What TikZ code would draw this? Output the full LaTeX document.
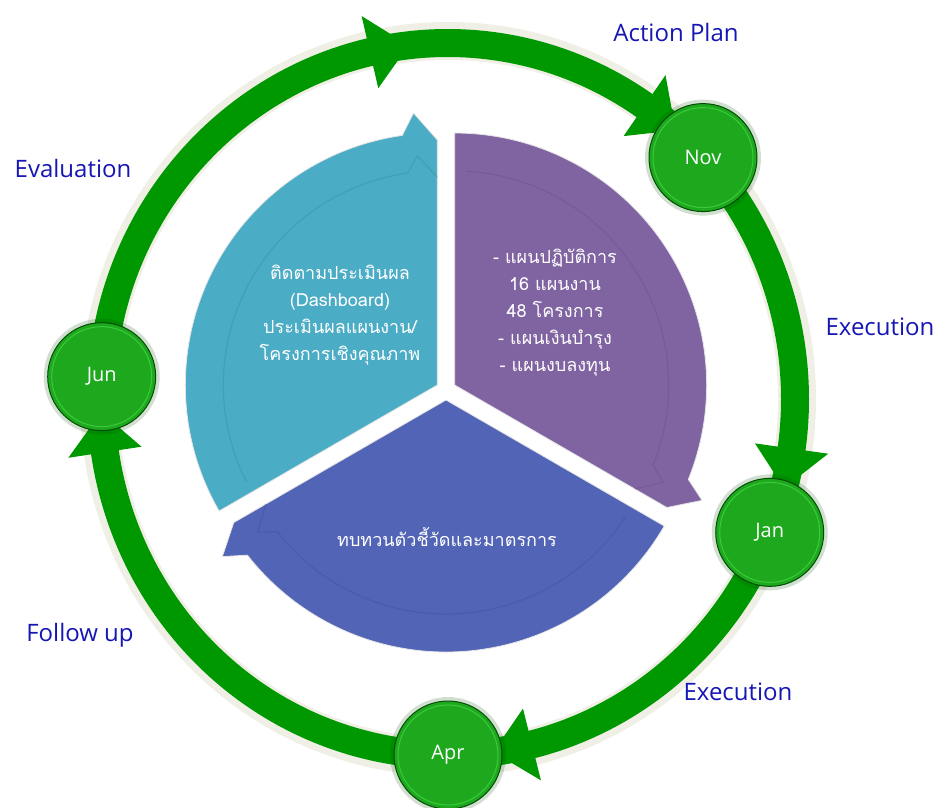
\documentclass[tikz,border=0pt]{standalone}
\usepackage{fontspec}
\setmainfont{Open Sans}
\newfontfamily\thaifont[Script=Thai]{Loma}
\usetikzlibrary{arrows, positioning, calc}

\definecolor{ringgreen}{RGB}{0,152,0}
\definecolor{monthgreen}{RGB}{30,168,30}
\definecolor{labelblue}{RGB}{22,22,180}
\definecolor{partcyan}{RGB}{75,172,198}
\definecolor{partpurple}{RGB}{128,100,162}
\definecolor{partblue}{RGB}{82,100,182}

% one part of the inner cycle: start angle, end angle, colour, shift direction
\newcommand{\cyclepart}[4]{%
  \begin{scope}[shift={(#4:10)}]
    \fill[#3, draw=white!90!black, line width=0.8pt] (0,0) -- (#1:252)
      arc[start angle=#1, end angle=#2+8, radius=252pt]
      -- (#2+5:273) -- (#2:245) -- cycle;
    \draw[#3!80!black, line width=1.2pt, opacity=0.4] (#1-3:214)
      arc[start angle=#1-3, end angle=#2+8, radius=214pt]
      -- (#2+5:230) -- (#2:208);
  \end{scope}}

\begin{document}
\begin{tikzpicture}[x=1pt, y=1pt,
  ring/.style={line width=28pt, ringgreen},
  ringglow/.style={line width=38pt, olive!45!gray, opacity=0.14},
  month/.style={circle, minimum size=108pt, inner sep=0pt, fill=monthgreen,
    draw=green!30!black, line width=1pt, text=white,
    font=\fontsize{20}{24}\selectfont},
  monthglow/.style={fill=green!30!black, opacity=0.18},
  phase/.style={text=labelblue, font=\fontsize{24}{28}\selectfont},
  parttext/.style={text=white, align=center,
    font=\thaifont\fontsize{18}{27}\selectfont}]
\useasboundingbox (-446,-417) rectangle (495,390);
% the centre of the outer ring
\coordinate (ringc) at (2,-9);
% the positions of the months on the ring
\foreach \name/\ang in {nov/42.7, jan/-22, apr/-90, jun/176.4}
  \coordinate (p-\name) at ($(ringc)+(\ang:347 and 356)$);
% we draw the soft shadow of the ring
\draw[ringglow] (ringc) ellipse[x radius=349pt, y radius=358pt];
% we draw the ring from month to month
\foreach \from/\to/\a/\b in {p-jun/p-nov/176.4/42.7, p-nov/p-jan/42.7/-22,
  p-jan/p-apr/-22/-90, p-apr/p-jun/-90/-183.6}
  \draw[ring] (\from) arc[start angle=\a, end angle=\b,
    x radius=347pt, y radius=356pt];
% we draw the arrow heads on the ring
\foreach \a in {103, 55.5, -8, -76, -171.4}
  \fill[ringgreen] ($(ringc)+(\a:384 and 393)$) -- ($(ringc)+(\a-6.5:347 and 356)$)
    -- ($(ringc)+(\a:310 and 319)$) -- cycle;
% we draw the three parts of the inner cycle
\cyclepart{210}{90}{partcyan}{150}
\cyclepart{90}{-30}{partpurple}{30}
\cyclepart{-30}{-150}{partblue}{270}
% the texts of the inner cycle
\node[parttext] (follow) at (-106,75) {ติดตามประเมินผล\\(Dashboard)\\ประเมินผลแผนงาน/\\โครงการเชิงคุณภาพ};
\node[parttext] (plans) at (109,77) {- แผนปฏิบัติการ\\16 แผนงาน\\48 โครงการ\\- แผนเงินบำรุง\\- แผนงบลงทุน};
\node[parttext] (review) at (1,-147) {ทบทวนตัวชี้วัดและมาตรการ};
% we draw the month circles
\foreach \name/\txt in {nov/Nov, jan/Jan, apr/Apr, jun/Jun}
{
  \fill[monthglow] (p-\name) circle[radius=58pt];
  \node[month] (\name) at (p-\name) {\txt};
  \draw[green!60!white, opacity=0.4, line width=1pt] (\name.center) circle[radius=50pt];
}
% the names of the phases
\node[phase] (actionplan) at (676-446,390-32) {Action Plan};
\node[phase] (evaluation) at (73-446,390-168) {Evaluation};
\node[phase] (execone) at (880-446,390-327) {Execution};
\node[phase] (exectwo) at (738-446,390-692) {Execution};
\node[phase] (followup) at (80-446,390-635) {Follow up};
\end{tikzpicture}
\end{document}
